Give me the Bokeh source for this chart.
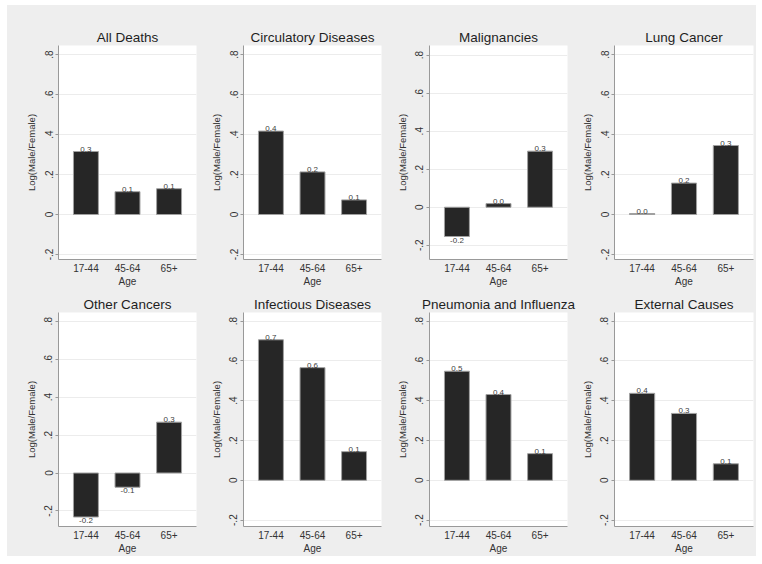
from bokeh.plotting import figure
from bokeh.layouts import gridplot
from bokeh.models import FixedTicker, ColumnDataSource, Range1d
from bokeh.core.properties import value
from bokeh.embed import file_html
from bokeh.resources import INLINE

# ---------------- data ----------------
age_groups = ["17-44", "45-64", "65+"]
titles = ["All Deaths", "Circulatory Diseases", "Malignancies", "Lung Cancer",
          "Other Cancers", "Infectious Diseases", "Pneumonia and Influenza", "External Causes"]
all_deaths = [0.315, 0.114, 0.129]
circulatory = [0.417, 0.213, 0.073]
malignancies = [-0.154, 0.019, 0.295]
lung_cancer = [0.005, 0.157, 0.345]
other_cancers = [-0.232, -0.075, 0.268]
infectious = [0.706, 0.566, 0.144]
pneumonia = [0.548, 0.431, 0.134]
external = [0.437, 0.336, 0.083]
y_ticks = [-0.2, 0, 0.2, 0.4, 0.6, 0.8]
y_tick_labels = ["-.2", "0", ".2", ".4", ".6", ".8"]
x_title = "Age"
y_title = "Log(Male/Female)"

series = [all_deaths, circulatory, malignancies, lung_cancer,
          other_cancers, infectious, pneumonia, external]

# ---------------- layout / style ----------------
FONT = "Liberation Sans"
BG = "#eeeeee"
col_w = [198, 186, 186, 179]
left_b = [51, 38, 38, 37]
right_b = [9, 10, 10, 3]
row_h = [284, 267]
top_b = [40, 23]
bottom_b = [30, 29]
y_ranges = [(-0.225, 0.845), (-0.225, 0.845), (-0.275, 0.851), (-0.225, 0.845),
            (-0.282, 0.846), (-0.232, 0.843), (-0.232, 0.843), (-0.232, 0.843)]

positions = [i + 1 for i in range(len(age_groups))]

figs = []
for idx, (title, vals) in enumerate(zip(titles, series)):
    r, c = divmod(idx, 4)
    lo, hi = y_ranges[idx]
    p = figure(width=col_w[c], height=row_h[r], output_backend="svg", toolbar_location=None,
               x_range=Range1d(0.34, 3.66), y_range=Range1d(lo, hi),
               min_border_left=left_b[c], min_border_right=right_b[c],
               min_border_top=top_b[r], min_border_bottom=bottom_b[r])
    p.background_fill_color = "white"
    p.border_fill_color = BG
    p.outline_line_color = None

    p.title.text = title
    p.title.align = "center"
    p.title.text_font = FONT
    p.title.text_font_size = "13.5px"
    p.title.text_font_style = "normal"
    p.title.text_color = "#1e1e1e"
    p.title.standoff = 2

    src = ColumnDataSource(dict(x=positions, top=vals))
    p.vbar(x="x", top="top", bottom=0, width=0.6, source=src,
           fill_color="#262626", line_color="#a0a0a0", line_width=1)

    labels = ["%.1f" % v for v in vals]
    pos = ColumnDataSource(dict(x=[x for x, v in zip(positions, vals) if v >= 0],
                                y=[v for v in vals if v >= 0],
                                t=[l for l, v in zip(labels, vals) if v >= 0]))
    neg = ColumnDataSource(dict(x=[x for x, v in zip(positions, vals) if v < 0],
                                y=[v for v in vals if v < 0],
                                t=[l for l, v in zip(labels, vals) if v < 0]))
    p.text(x="x", y="y", text="t", source=pos, text_align="center", text_baseline="bottom",
           text_font=value(FONT), text_font_size="8px", text_color="#404040")
    p.text(x="x", y="y", text="t", source=neg, text_align="center", text_baseline="top",
           text_font=value(FONT), text_font_size="8px", text_color="#404040", y_offset=1)

    # x axis
    xa = p.xaxis[0]
    xa.ticker = FixedTicker(ticks=positions)
    xa.major_label_overrides = {pp: g for pp, g in zip(positions, age_groups)}
    xa.major_tick_out = 0
    xa.major_tick_in = 0
    xa.minor_tick_out = 0
    xa.minor_tick_in = 0
    xa.axis_line_color = "#999999"
    xa.major_label_text_font = FONT
    xa.major_label_text_font_size = "10px"
    xa.major_label_text_color = "#333333"
    xa.major_label_standoff = 4
    xa.axis_label = x_title
    xa.axis_label_text_font = FONT
    xa.axis_label_text_font_size = "10px"
    xa.axis_label_text_font_style = "normal"
    xa.axis_label_text_color = "#333333"
    xa.axis_label_standoff = 1

    # y axis
    ya = p.yaxis[0]
    ya.ticker = FixedTicker(ticks=y_ticks)
    ya.major_label_overrides = {t: l for t, l in zip(y_ticks, y_tick_labels)}
    ya.major_label_orientation = "vertical"
    ya.major_tick_out = 3
    ya.major_tick_in = 0
    ya.minor_tick_out = 0
    ya.minor_tick_in = 0
    ya.major_tick_line_color = "#999999"
    ya.axis_line_color = "#999999"
    ya.major_label_text_font = FONT
    ya.major_label_text_font_size = "10px"
    ya.major_label_text_color = "#333333"
    ya.major_label_standoff = 3
    ya.axis_label = y_title
    ya.axis_label_text_font = FONT
    ya.axis_label_text_font_size = "9.5px"
    ya.axis_label_text_font_style = "normal"
    ya.axis_label_text_color = "#333333"
    ya.axis_label_standoff = 5

    p.xgrid.visible = False
    p.ygrid.grid_line_color = "#ececec"
    p.ygrid.grid_line_width = 1

    figs.append(p)

grid = gridplot([figs[:4], figs[4:]], toolbar_location=None)
grid.spacing = 0
grid.margin = (5, 0, 0, 7)
grid.styles = {"background-color": BG}

open("out.html", "w").write(file_html(grid, INLINE))
